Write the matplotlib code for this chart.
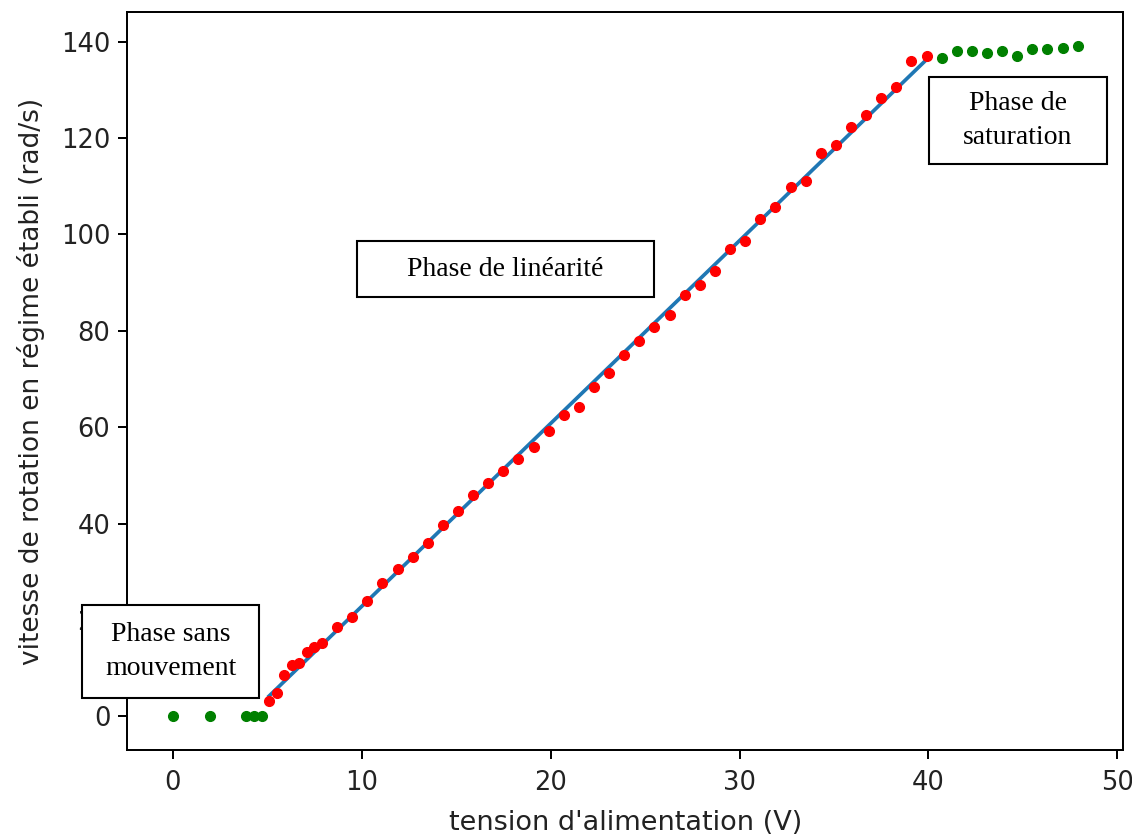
import numpy as np
import matplotlib
matplotlib.use("Agg")
import matplotlib.pyplot as plt
from matplotlib.patches import Rectangle

# ---- data ----
# phase sans mouvement (green)
v_stop = [0.0, 2.0, 3.9, 4.3, 4.7]
w_stop = [0.0, 0.0, 0.0, 0.0, 0.0]

# phase de linéarité (red)
v_lin = [5.1, 5.5, 5.9, 6.3, 6.7, 7.1, 7.5, 7.9, 8.7, 9.5, 10.3, 11.1, 11.9,
         12.7, 13.5, 14.3, 15.1, 15.9, 16.7, 17.5, 18.3, 19.1, 19.9, 20.7,
         21.5, 22.3, 23.1, 23.9, 24.7, 25.5, 26.3, 27.1, 27.9, 28.7, 29.5,
         30.3, 31.1, 31.9, 32.7, 33.5, 34.3, 35.1, 35.9, 36.7, 37.5, 38.3,
         39.1, 39.9]
w_lin = [3.2, 4.9, 8.6, 10.7, 11.1, 13.3, 14.4, 15.3, 18.5, 20.6, 23.9, 27.6,
         30.6, 33.1, 36.0, 39.7, 42.7, 45.9, 48.5, 50.9, 53.4, 55.9, 59.2,
         62.5, 64.2, 68.3, 71.2, 75.0, 77.9, 80.8, 83.3, 87.4, 89.5, 92.4,
         97.0, 98.6, 103.2, 105.6, 109.8, 111.0, 116.9, 118.5, 122.2, 124.7,
         128.4, 130.5, 136.0, 137.0]

# phase de saturation (green)
v_sat = [40.7, 41.5, 42.3, 43.1, 43.9, 44.7, 45.5, 46.3, 47.1, 47.9]
w_sat = [136.6, 138.1, 138.1, 137.6, 138.1, 137.0, 138.4, 138.4, 138.7, 139.2]

xlabel = "tension d'alimentation (V)"
ylabel = "vitesse de rotation en régime établi (rad/s)"

# ---- figure ----
S = 1.77
fig = plt.figure(figsize=(11.32, 8.39), dpi=100)
ax = fig.add_axes([0.1126, 0.1061, 0.8794, 0.8796])

coef = np.polyfit(v_lin, w_lin, 1)
fit_x = np.array([v_lin[0], v_lin[-1]])
ax.plot(fit_x, np.polyval(coef, fit_x), color="C0", lw=1.5 * S, zorder=2)
ax.plot(v_stop, w_stop, "g.", ms=14, zorder=3)
ax.plot(v_lin, w_lin, "r.", ms=14, zorder=3)
ax.plot(v_sat, w_sat, "g.", ms=14, zorder=3)

ax.set_xticks([0, 10, 20, 30, 40, 50])
ax.set_yticks([0, 20, 40, 60, 80, 100, 120, 140])
ax.tick_params(labelsize=18.5, length=3.5 * S, width=0.8 * S, pad=3.5 * S,
               labelcolor="#222222")
ax.tick_params(axis="x", pad=8)
for sp in ax.spines.values():
    sp.set_linewidth(0.8 * S)
ax.set_xlabel(xlabel, fontsize=19.5, labelpad=10, color="#222222")
ax.set_ylabel(ylabel, fontsize=19, labelpad=11, color="#222222")

# ---- annotation boxes (figure pixel coords) ----
W, H = 1132, 839
def box(x0, y0, x1, y1, text):
    fig.patches.append(Rectangle((x0 / W, 1 - y1 / H), (x1 - x0) / W, (y1 - y0) / H,
                                 transform=fig.transFigure, facecolor="white",
                                 edgecolor="black", lw=1.5, zorder=10))
    fig.text((x0 + x1) / 2 / W, 1 - (y0 + y1) / 2 / H, text, ha="center", va="center",
             family="Liberation Serif", fontsize=20, linespacing=1.5, zorder=11)

box(357, 241, 654, 297, "Phase de linéarité")
box(929, 77, 1107, 164, "Phase de\nsaturation")
box(82, 605, 259, 698, "Phase sans\nmouvement")

fig.savefig("out.png", dpi=100)
